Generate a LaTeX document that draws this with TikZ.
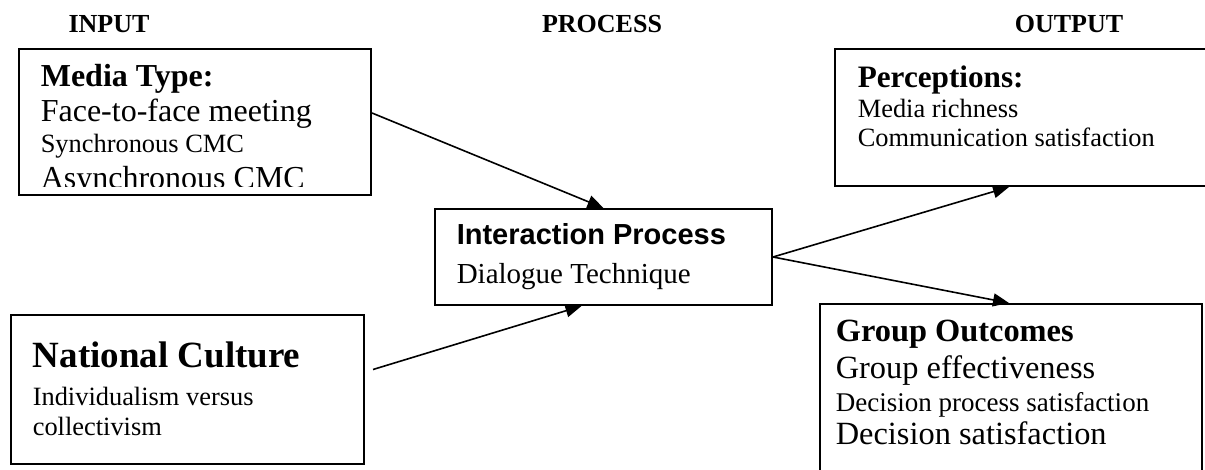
\documentclass[tikz,border=0pt]{standalone}
\usepackage{fontspec}
\setmainfont{Liberation Serif}
\newfontfamily\arialfont{Liberation Sans}
\usetikzlibrary{arrows.meta}
\newcommand\fsz[1]{\fontsize{#1}{#1}\selectfont}
\tikzset{
  panel/.style={draw, line width=1pt, anchor=north west, inner sep=0pt},
  head/.style={anchor=base, inner sep=0pt, font=\fsz{13}\bfseries},
  entry/.style={anchor=base west, inner sep=0pt},
}
\begin{document}
\begin{tikzpicture}[x=0.5pt, y=-0.5pt, >={Triangle[length=8pt,width=6.5pt]}, line width=0.8pt]
  \useasboundingbox (0,0) rectangle (1205,470);
  \clip (0,0) rectangle (1205,470);
  % column headings
  \node[head] (input) at (109,33) {INPUT};
  \node[head] (process) at (602,33) {PROCESS};
  \node[head] (output) at (1069,33) {OUTPUT};
  % frames
  \node[panel, minimum width=176pt, minimum height=73pt] (media) at (18,48) {};
  \node[panel, minimum width=176.5pt, minimum height=74.5pt] (culture) at (10,314) {};
  \node[panel, minimum width=168.5pt, minimum height=48pt] (inter) at (434,208) {};
  \node[panel, minimum width=190.5pt, minimum height=68.5pt] (percep) at (834,48) {};
  \node[panel, minimum width=191pt, minimum height=100pt] (outcome) at (819,303) {};
  % media type (last line runs into the frame margin)
  \begin{scope}
    \clip (media.north west) rectangle ([yshift=4.5pt]media.south east);
    \node[entry, font=\fsz{16}\bfseries] (media-t) at (40,87) {Media Type:};
    \node[entry, font=\fsz{16}] (media-1) at (40,122) {Face-to-face meeting};
    \node[entry, font=\fsz{13.2}] (media-2) at (40,153) {Synchronous CMC};
    \node[entry, font=\fsz{16}] (media-3) at (40,189) {Asynchronous CMC};
  \end{scope}
  % national culture
  \node[entry, font=\fsz{18.5}\bfseries] (culture-t) at (32,367) {National Culture};
  \node[entry, font=\fsz{13.2}] (culture-1) at (32,405) {Individualism versus};
  \node[entry, font=\fsz{13.2}] (culture-2) at (32,435) {collectivism};
  % interaction process
  \node[entry, font=\fsz{14.5}\arialfont\bfseries] (inter-t) at (456,245) {Interaction Process};
  \node[entry, font=\fsz{14.5}] (inter-1) at (456,284) {Dialogue Technique};
  % perceptions
  \node[entry, font=\fsz{15.6}\bfseries] (percep-t) at (857,88) {Perceptions:};
  \node[entry, font=\fsz{13.2}] (percep-1) at (857,118) {Media richness};
  \node[entry, font=\fsz{13.2}] (percep-2) at (857,147) {Communication satisfaction};
  % group outcomes
  \node[entry, font=\fsz{16.2}\bfseries] (outcome-t) at (835,342) {Group Outcomes};
  \node[entry, font=\fsz{16.2}] (outcome-1) at (835,379) {Group effectiveness};
  \node[entry, font=\fsz{13.5}] (outcome-2) at (835,411) {Decision process satisfaction};
  \node[entry, font=\fsz{16.2}] (outcome-3) at (835,444) {Decision satisfaction};
  % connectors
  \draw[->] ([yshift=4.5pt]media.east) -- (inter.north);
  \draw[->] ([xshift=4pt,yshift=10pt]culture.east) -- ([xshift=-11pt]inter.south);
  \draw[->] (inter.east) -- ([xshift=-8.25pt]percep.south);
  \draw[->] (inter.east) -- ([xshift=-1pt]outcome.north);
\end{tikzpicture}
\end{document}
